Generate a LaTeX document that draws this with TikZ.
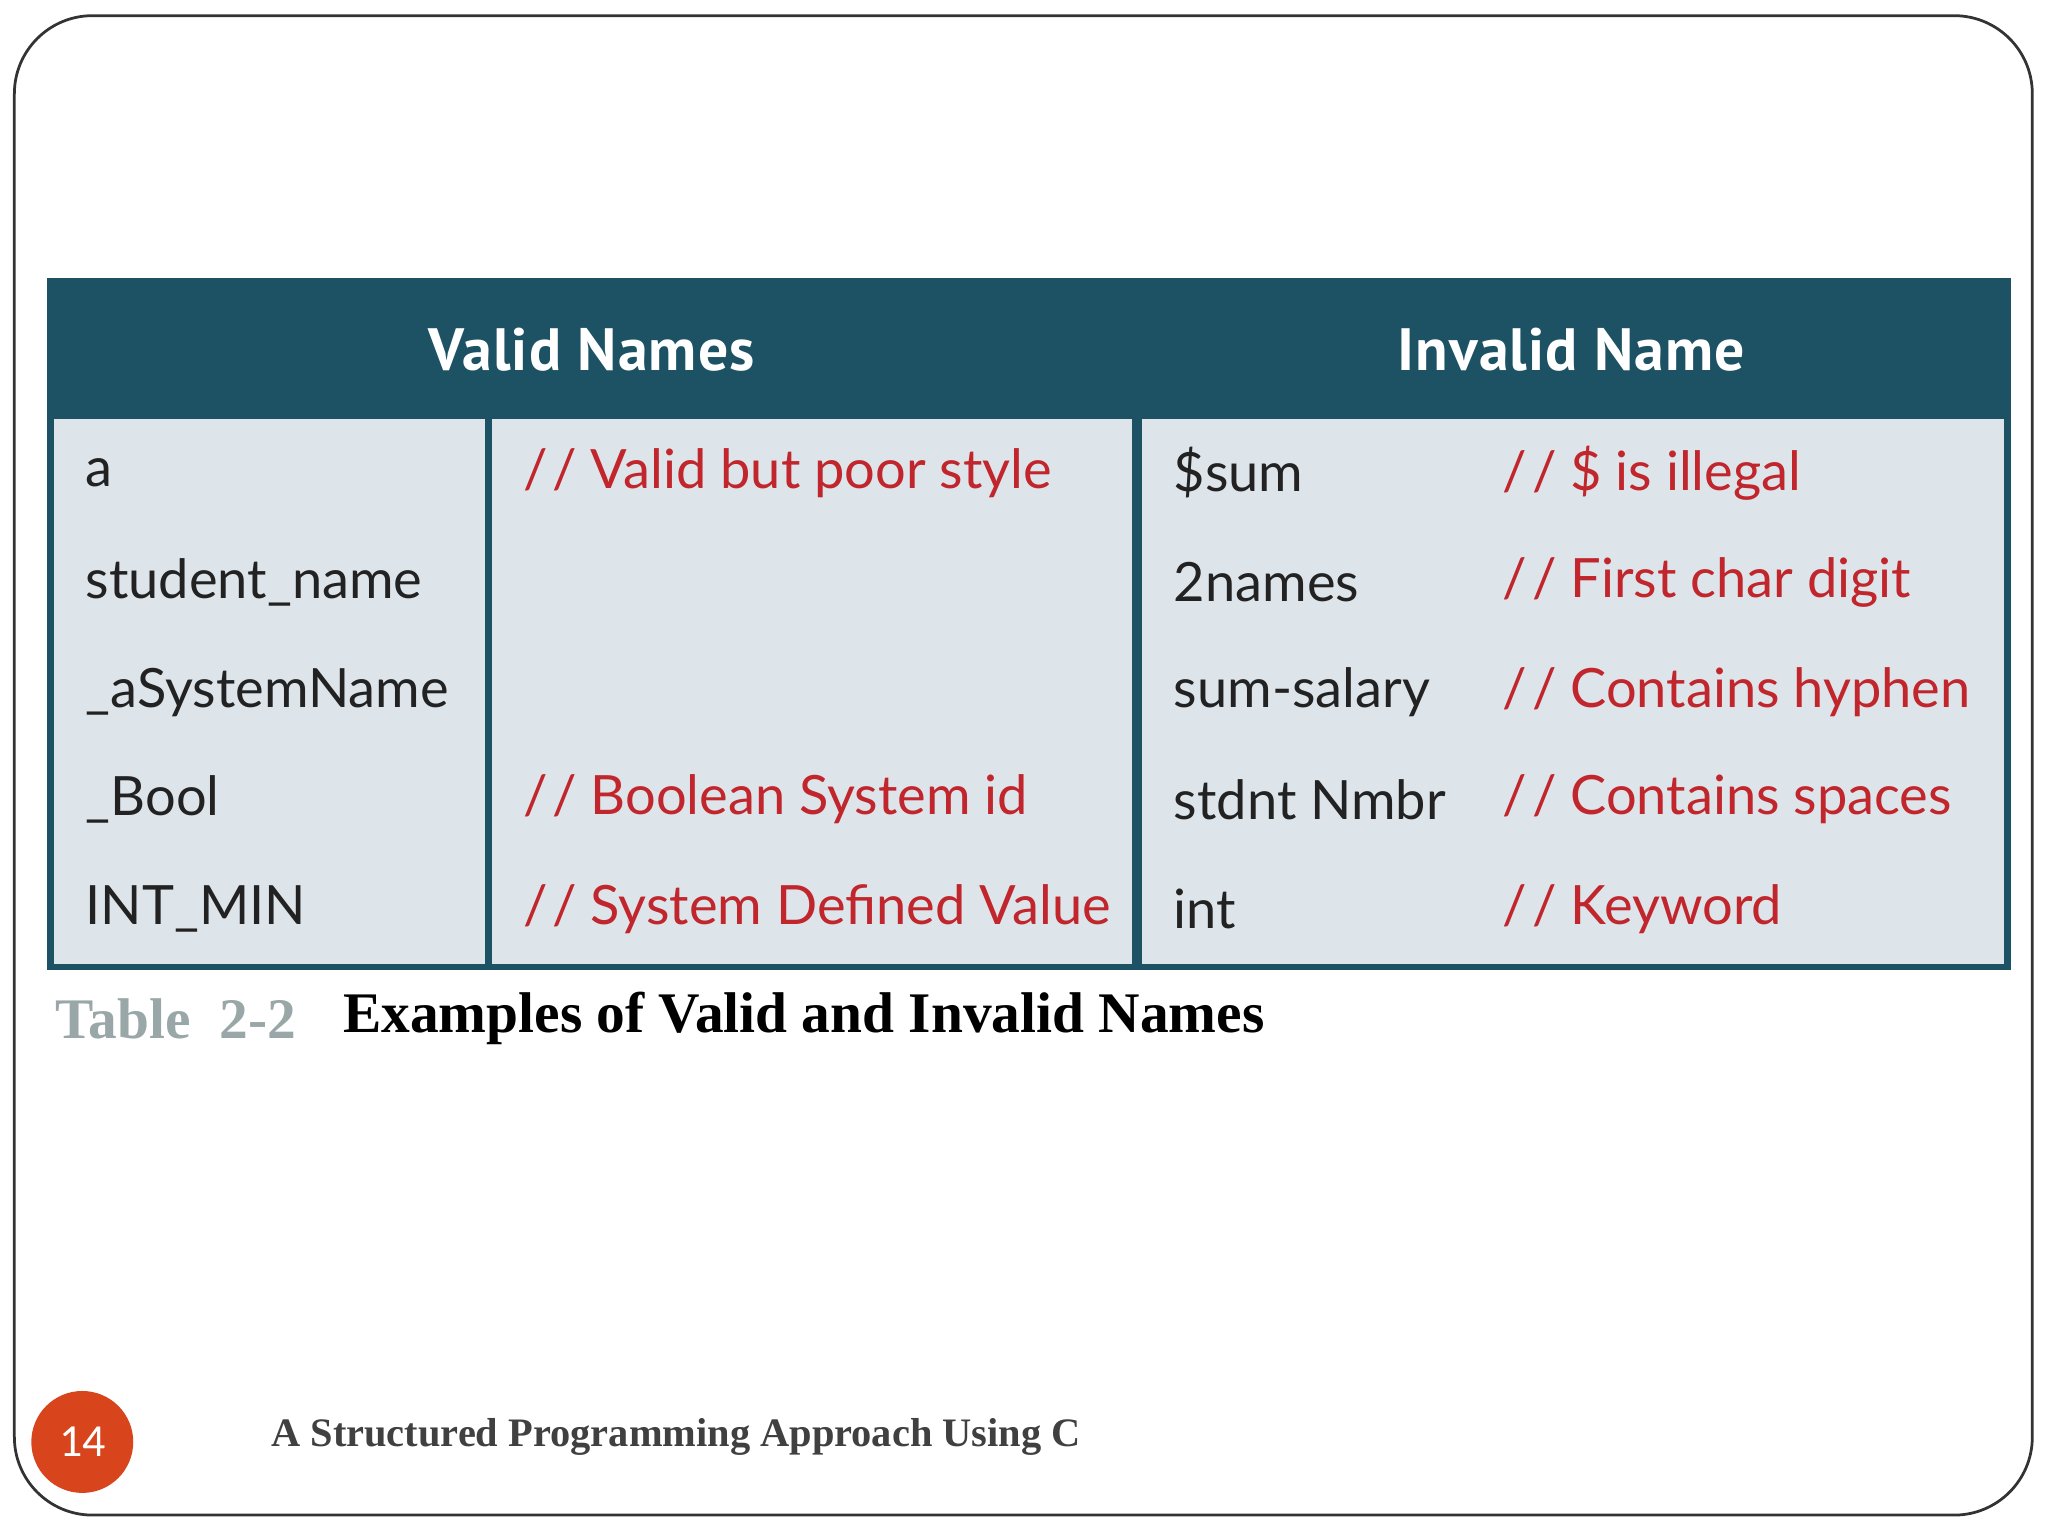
\documentclass[tikz,border=0pt]{standalone}
\usepackage{fontspec}
\setmainfont{Liberation Serif}
\setsansfont{Carlito}
\newfontfamily\hdr{PT Sans}
\newfontfamily\cell{Lato}
\definecolor{teal}{HTML}{1C5264}
\definecolor{cellbg}{HTML}{DDE4EA}
\definecolor{cred}{HTML}{C0262C}
\definecolor{ctxt}{HTML}{222222}
\definecolor{cgrey}{HTML}{9AA7A8}
\definecolor{badge}{HTML}{D8441C}
\begin{document}
\begin{tikzpicture}[x=0.01cm,y=-0.01cm,
  nm/.style={anchor=west,font=\cell\fontsize{11.8}{14}\selectfont,text=ctxt,inner sep=0},
  cmt/.style={anchor=west,font=\cell\fontsize{11.8}{14}\selectfont,text=cred,inner sep=0},
  hd/.style={font=\hdr\bfseries\fontsize{13}{15}\selectfont,text=white,inner sep=0},
  cellbox/.style={fill=cellbg,draw=none}]
\useasboundingbox (0,0) rectangle (1568,1176);
\draw[black!80,line width=0.6pt,rounded corners=17pt] (11,12) rectangle (1556,1160);
\fill[teal] (36,213) rectangle (1540,743);
\fill[cellbox] (41,321) rectangle (371,738);
\fill[cellbox] (377,321) rectangle (867,738);
\fill[cellbox] (874,321) rectangle (1534,738);
\node[hd] (h1) at (453,268) {\addfontfeature{LetterSpace=2}Valid Names};
\node[hd] (h2) at (1203,268) {\addfontfeature{LetterSpace=2}Invalid Name};
\foreach \n/\y in {a/362,student\_name/446,\_aSystemName/530,\_Bool/612,INT\_MIN/696}
  \node[nm] at (65,\y) {\n};
\node[cmt] (c1) at (400,362) {/\kern1pt/ Valid but poor style};
\node[cmt] (c2) at (400,612) {/\kern1pt/ Boolean System id};
\node[cmt] (c3) at (400,696) {/\kern1pt/ System Defined Value};
\foreach \n/\y in {\$sum/362,2names/446,sum-salary/530,stdnt Nmbr/612,int/696}
  \node[nm] at (898,\y) {\n};
\node[cmt] (d1) at (1150,362) {/\kern1pt/ \$ is illegal};
\node[cmt] (d2) at (1150,446) {/\kern1pt/ First char digit};
\node[cmt] (d3) at (1150,530) {/\kern1pt/ Contains hyphen};
\node[cmt] (d4) at (1150,612) {/\kern1pt/ Contains spaces};
\node[cmt] (d5) at (1150,696) {/\kern1pt/ Keyword};
\node[anchor=west,inner sep=0,font=\bfseries\fontsize{12.5}{14}\selectfont,text=cgrey] (t1) at (42,780) {Table\ \ 2-2};
\node[anchor=west,inner sep=0,font=\bfseries\fontsize{12.5}{14}\selectfont] (t2) at (262,780) {Examples of Valid and Invalid Names};
\node[anchor=west,inner sep=0,font=\bfseries\fontsize{8.8}{10}\selectfont,text=black!75] (ft) at (207,1100) {A Structured Programming Approach Using C};
\node[circle,fill=badge,minimum size=0.78cm,inner sep=0,text=white,font=\sffamily\fontsize{10}{11}\selectfont] (pg) at (63,1104) {14};
\end{tikzpicture}
\end{document}
